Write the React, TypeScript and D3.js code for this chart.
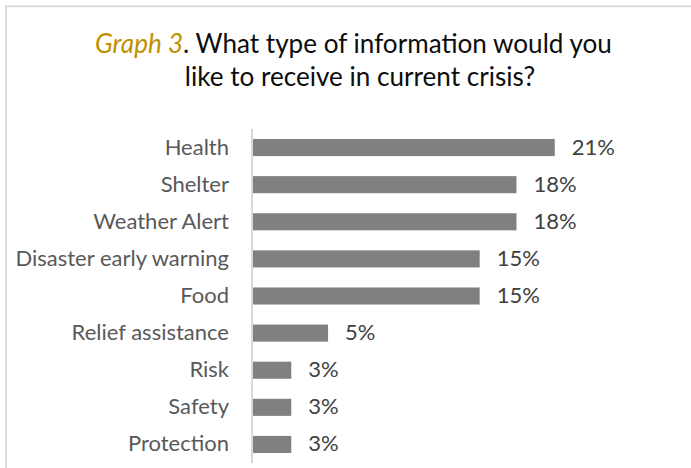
import React, { useMemo } from "react";
import * as d3 from "d3";

const categories = [
  "Health",
  "Shelter",
  "Weather Alert",
  "Disaster early warning",
  "Food",
  "Relief assistance",
  "Risk",
  "Safety",
  "Protection",
];
const values = [20.5, 17.9, 17.9, 15.4, 15.4, 5.1, 2.6, 2.6, 2.6];
const titleLead = "Graph 3";
const titleRest = ". What type of information would you";
const titleLine2 = "like to receive in current crisis?";

const FONT = "Lato, 'Open Sans', sans-serif";
const W = 691;
const H = 468;

function measure(text: string, size: number, italic = false) {
  const c = document.createElement("canvas");
  const ctx = c.getContext("2d")!;
  ctx.font = `${italic ? "italic " : ""}${size}px Lato`;
  return ctx.measureText(text).width;
}

export default function App() {
  const { labelSize, titleSize } = useMemo(() => {
    const base = 20;
    const wLabel = measure("Disaster early warning", base);
    const wTitle = measure(titleLead, base, true) + measure(titleRest, base);
    return {
      labelSize: (base * 215) / wLabel,
      titleSize: (base * 519) / wTitle,
    };
  }, []);

  const x = d3.scaleLinear().domain([0, 25]).range([253, 621]);
  const y = d3
    .scaleBand<string>()
    .domain(categories)
    .range([129, 463])
    .paddingInner(0.54)
    .paddingOuter(0.27);

  return (
    <svg
      width={W}
      height={H}
      style={{ position: "absolute", left: 0, top: 0, display: "block", background: "#fff" }}
    >
      <rect x={6} y={6.3} width={W + 40} height={H + 40} fill="#fff" stroke="#d9d9d9" strokeWidth={1.8} />
      <text x={353.5} y={53.3} textAnchor="middle" fontFamily={FONT} fontSize={titleSize} fill="#0d0d0d">
        <tspan fill="#BF9000" fontStyle="italic">{titleLead}</tspan>
        <tspan>{titleRest}</tspan>
      </text>
      <text x={360} y={85.7} textAnchor="middle" fontFamily={FONT} fontSize={titleSize} fill="#0d0d0d">
        {titleLine2}
      </text>
      {categories.map((c, i) => {
        const yc = (y(c) as number) + y.bandwidth() / 2;
        return (
          <g key={c}>
            <rect
              x={x(0)}
              y={y(c)}
              width={x(values[i]) - x(0)}
              height={y.bandwidth()}
              fill="#808080"
            />
            <text
              x={229}
              y={yc + 7}
              textAnchor="end"
              fontFamily={FONT}
              fontSize={labelSize}
              fill="#595959"
            >
              {c}
            </text>
            <text
              x={x(values[i]) + 17}
              y={yc + 7}
              fontFamily={FONT}
              fontSize={labelSize}
              fill="#404040"
            >
              {Math.round(values[i]) + "%"}
            </text>
          </g>
        );
      })}
      <line x1={252} x2={252} y1={129} y2={463} stroke="#d9d9d9" strokeWidth={2} />
    </svg>
  );
}
